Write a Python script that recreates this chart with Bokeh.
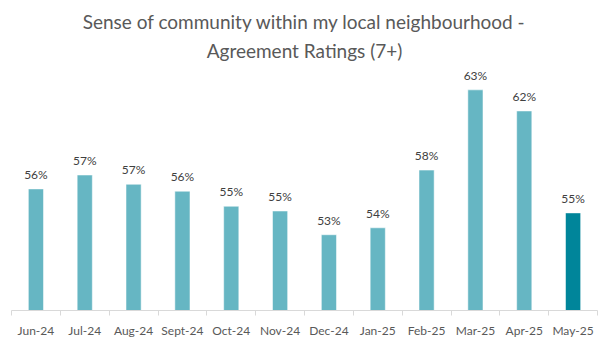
from bokeh.plotting import figure
from bokeh.models import ColumnDataSource, Range1d, FixedTicker, Title
from bokeh.core.properties import value
from bokeh.embed import file_html
from bokeh.resources import INLINE

months = ["Jun-24", "Jul-24", "Aug-24", "Sept-24", "Oct-24", "Nov-24",
          "Dec-24", "Jan-25", "Feb-25", "Mar-25", "Apr-25", "May-25"]
agreement = [56.21, 57.17, 56.53, 56.05, 55.01, 54.68,
             53.04, 53.52, 57.51, 63.06, 61.60, 54.55]
bar_colors = ["#66B6C3"] * 11 + ["#00859A"]

FONT = "Lato"

idx = list(range(len(months)))
src = ColumnDataSource(dict(
    x=idx,
    top=agreement,
    color=bar_colors,
    label=[f"{v:.0f}%" for v in agreement],
))

p = figure(width=605, height=340, output_backend="svg", toolbar_location=None,
           x_range=Range1d(-0.5, len(months) - 0.5),
           y_range=Range1d(47.8, 64.4),
           min_border_left=11, min_border_right=8, min_border_bottom=28,
           min_border_top=70)
p.title = None
p.add_layout(Title(text="Agreement Ratings (7+)", align="center",
                   vertical_align="top",
                   text_font=FONT, text_font_size="19px", text_color="#595959",
                   text_font_style="normal", standoff=13, offset=0), "above")
p.add_layout(Title(text="Sense of community within my local neighbourhood -",
                   align="center", text_font=FONT, text_font_size="19px",
                   text_color="#595959", text_font_style="normal",
                   standoff=0, offset=0), "above")

p.vbar(x="x", top="top", bottom=47.8, width=0.31, color="color",
       line_color="white", line_alpha=0.5, line_width=1, source=src)
p.text(x="x", y="top", text="label", source=src, text_align="center",
       text_baseline="bottom", y_offset=-7, text_font=value(FONT),
       text_font_size="12px", text_color="#404040")

p.yaxis.visible = False
p.grid.visible = False
p.outline_line_color = None
p.background_fill_color = "white"
p.border_fill_color = "white"

ax = p.xaxis[0]
ax.ticker = FixedTicker(ticks=idx, minor_ticks=[i - 0.5 for i in range(len(months) + 1)])
ax.major_label_overrides = {i: m for i, m in enumerate(months)}
ax.major_tick_out = 0
ax.major_tick_in = 0
ax.minor_tick_out = 5
ax.minor_tick_in = 0
ax.minor_tick_line_color = "#D9D9D9"
ax.axis_line_color = "#D9D9D9"
ax.axis_line_width = 1
ax.major_label_text_font = FONT
ax.major_label_text_font_size = "12px"
ax.major_label_text_color = "#595959"
ax.major_label_standoff = 7

open("out.html", "w").write(file_html(p, INLINE))
